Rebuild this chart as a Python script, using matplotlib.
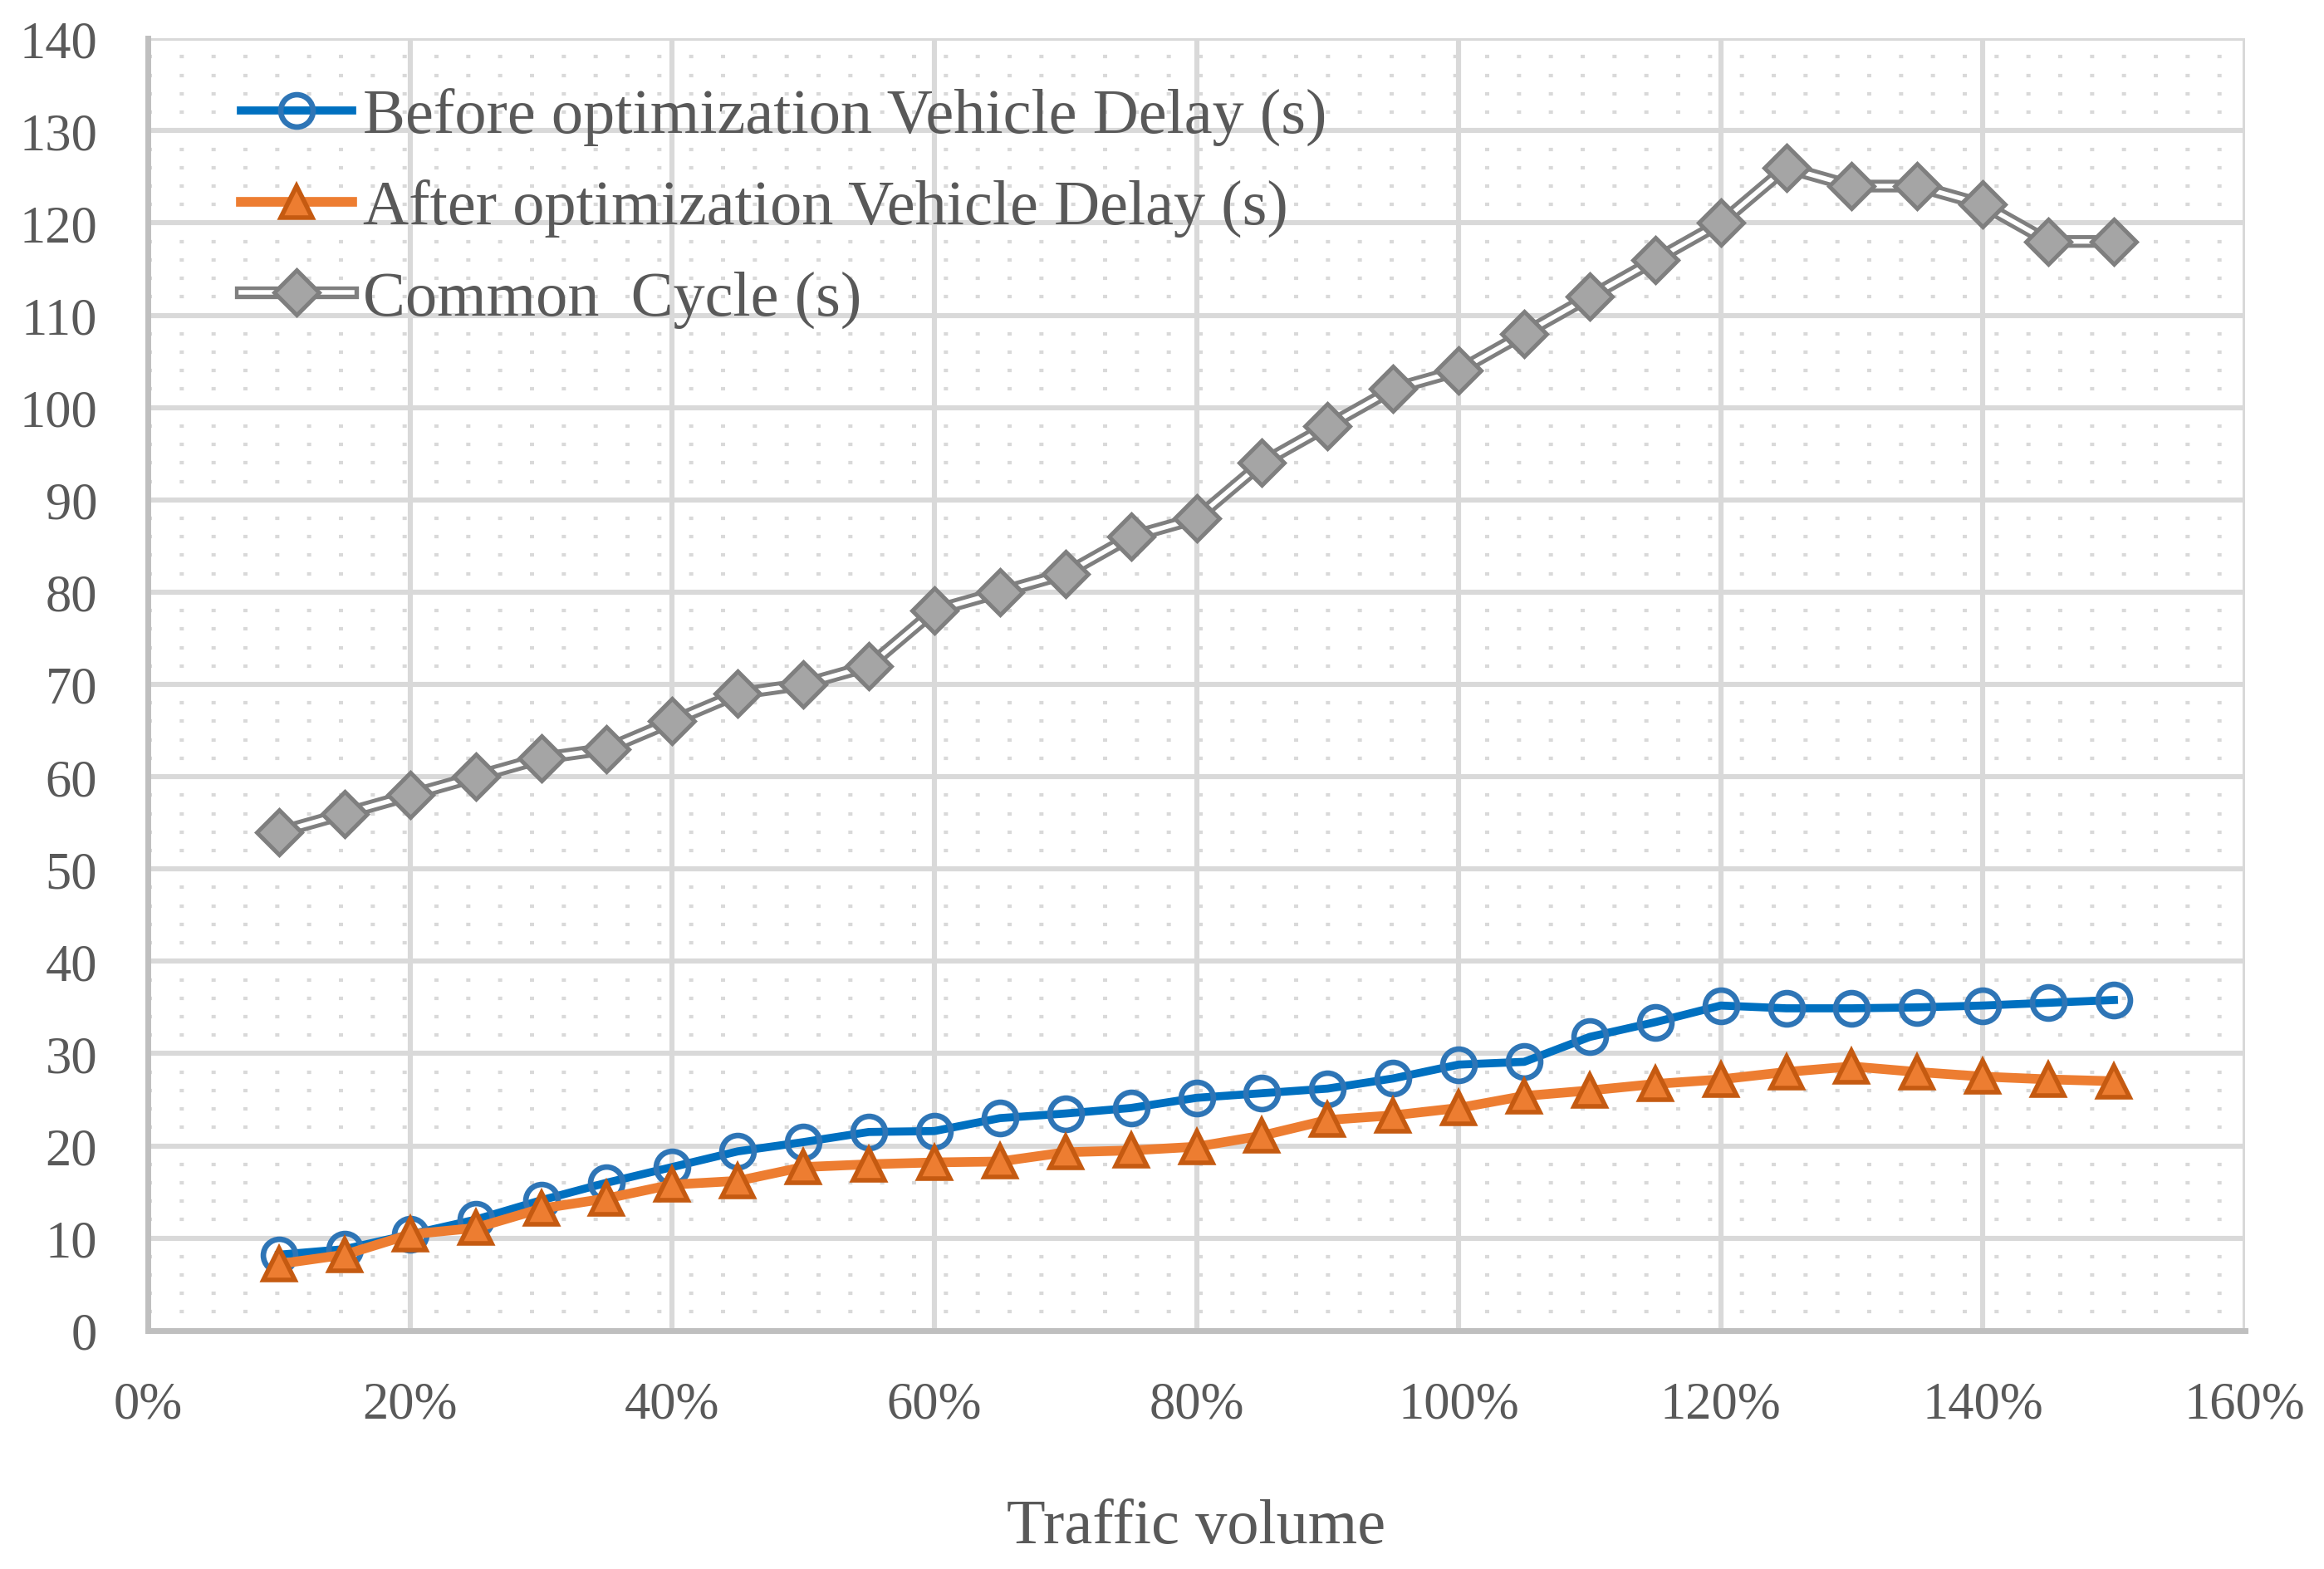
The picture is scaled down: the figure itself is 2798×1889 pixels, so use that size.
import matplotlib
matplotlib.use("Agg")
import matplotlib.pyplot as plt
from matplotlib.ticker import MultipleLocator, FuncFormatter
from matplotlib.lines import Line2D
from matplotlib.legend_handler import HandlerTuple

plt.rcParams['font.family'] = ['Liberation Serif', 'DejaVu Serif']

traffic = [10, 15, 20, 25, 30, 35, 40, 45, 50, 55, 60, 65, 70, 75, 80, 85, 90, 95,
           100, 105, 110, 115, 120, 125, 130, 135, 140, 145, 150]
before_delay = [8.2, 8.8, 10.4, 12.0, 14.1, 16.0, 17.7, 19.4, 20.4, 21.5, 21.6, 23.0,
                23.5, 24.1, 25.2, 25.7, 26.2, 27.3, 28.8, 29.1, 31.8, 33.4, 35.2, 34.9,
                34.9, 35.0, 35.2, 35.5, 35.8]
after_delay = [7.2, 8.2, 10.4, 11.1, 13.2, 14.3, 15.8, 16.2, 17.7, 18.0, 18.2, 18.3,
               19.3, 19.5, 19.9, 21.1, 22.8, 23.3, 24.1, 25.4, 26.0, 26.7, 27.2, 28.0,
               28.6, 28.0, 27.5, 27.2, 27.0]
common_cycle = [54, 56, 58, 60, 62, 63, 66, 69, 70, 72, 78, 80, 82, 86, 88, 94, 98, 102,
                104, 108, 112, 116, 120, 126, 124, 124, 122, 118, 118]

labels = ["Before optimization Vehicle Delay (s)",
          "After optimization Vehicle Delay (s)",
          "Common  Cycle (s)"]

fig = plt.figure(figsize=(13.99, 9.45), dpi=200)
ax = fig.add_axes([0.0637, 0.152, 0.9023, 0.823])

ax.set_xlim(0, 160)
ax.set_ylim(0, 140)
ax.xaxis.set_major_locator(MultipleLocator(20))
ax.yaxis.set_major_locator(MultipleLocator(10))
ax.xaxis.set_minor_locator(MultipleLocator(4))
ax.yaxis.set_minor_locator(MultipleLocator(2))
ax.xaxis.set_major_formatter(FuncFormatter(lambda v, p: f"{int(round(v))}%"))

ax.grid(which='major', color='#D9D9D9', linewidth=2.2, zorder=0)
ax.grid(which='minor', axis='y', color='#D9D9D9', linewidth=1.5,
        linestyle=(0, (1.2, 8)), zorder=0)
ax.set_axisbelow(True)

for s in ['top', 'right']:
    ax.spines[s].set_visible(False)
for s in ['left', 'bottom']:
    ax.spines[s].set_color('#BFBFBF')
    ax.spines[s].set_linewidth(2.5)

ax.tick_params(which='both', length=0)
ax.tick_params(axis='y', labelsize=22.5, labelcolor='#595959', pad=22)
ax.tick_params(axis='x', labelsize=22.5, labelcolor='#595959', pad=22)

# Common cycle: double line
ax.plot(traffic, common_cycle, color='#7F7F7F', linewidth=5.5, zorder=3,
        solid_capstyle='round', solid_joinstyle='round')
ax.plot(traffic, common_cycle, color='white', linewidth=2.0, zorder=3.1,
        solid_capstyle='round', solid_joinstyle='round')
ax.plot(traffic, common_cycle, linestyle='none', marker='D', markersize=14,
        markerfacecolor='#A5A5A5', markeredgecolor='#7F7F7F', markeredgewidth=1.8,
        zorder=3.2)

# Before optimization
ax.plot(traffic, before_delay, color='#0070C0', linewidth=3.5, zorder=4,
        marker='o', markersize=14, markerfacecolor='none',
        markeredgecolor='#2E75B6', markeredgewidth=2.4)

# After optimization
ax.plot(traffic, after_delay, color='#ED7D31', linewidth=4.2, zorder=5,
        marker='^', markersize=14, markerfacecolor='#ED7D31',
        markeredgecolor='#C55A11', markeredgewidth=2.0)

ax.set_xlabel("Traffic volume", fontsize=27.5, color='#595959', labelpad=30)

h1 = Line2D([], [], color='#0070C0', linewidth=3.5, marker='o', markersize=14,
            markerfacecolor='none', markeredgecolor='#2E75B6', markeredgewidth=2.4)
h2 = Line2D([], [], color='#ED7D31', linewidth=4.2, marker='^', markersize=14,
            markerfacecolor='#ED7D31', markeredgecolor='#C55A11', markeredgewidth=2.0)
h3a = Line2D([], [], color='#7F7F7F', linewidth=5.5)
h3b = Line2D([], [], color='white', linewidth=2.0)
h3c = Line2D([], [], linestyle='none', marker='D', markersize=14,
             markerfacecolor='#A5A5A5', markeredgecolor='#7F7F7F', markeredgewidth=1.8)

leg = ax.legend([h1, h2, (h3a, h3b, h3c)], labels, loc='upper left',
                bbox_to_anchor=(0.017, 1.006), frameon=False, fontsize=27.5,
                handlelength=1.75, handletextpad=0.18, labelspacing=0.52,
                handler_map={tuple: HandlerTuple(ndivide=1, pad=0)})
for t in leg.get_texts():
    t.set_color('#595959')

fig.savefig("out.png", dpi=200)
